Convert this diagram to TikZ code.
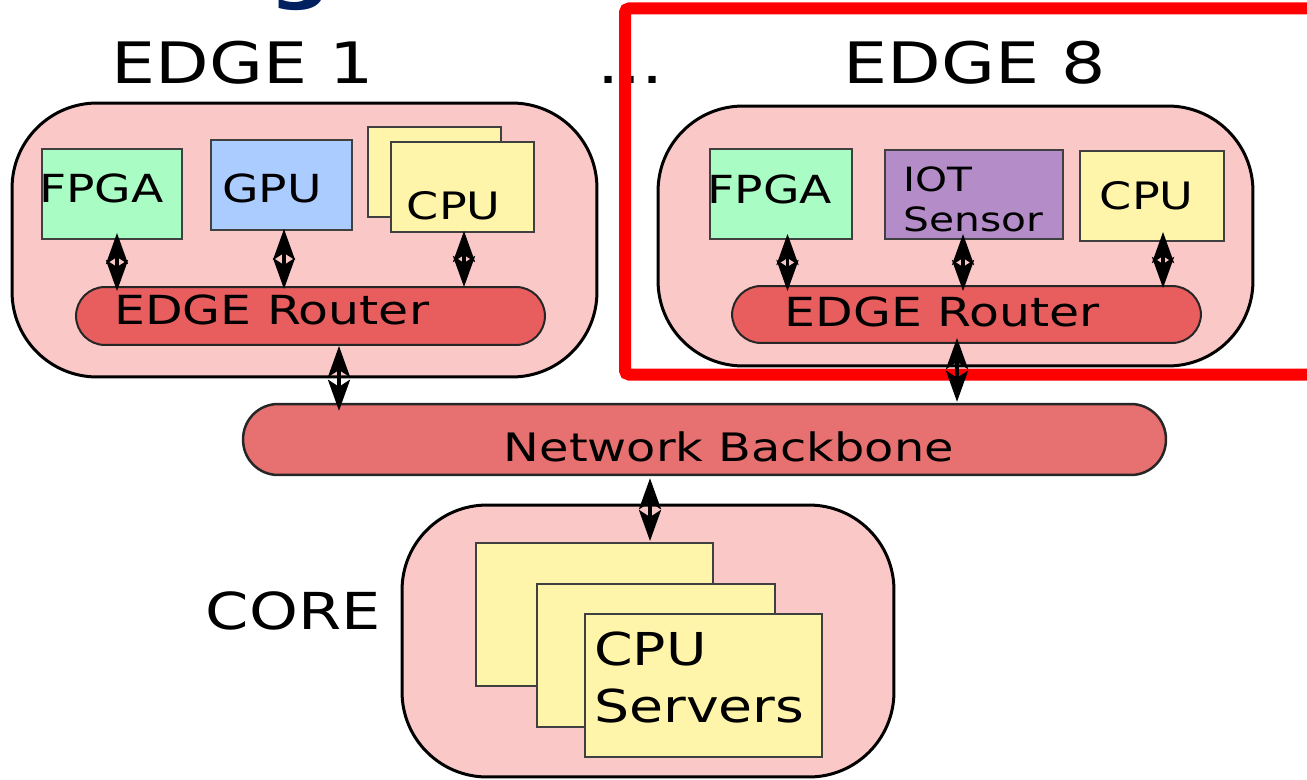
\documentclass[tikz,border=0pt]{standalone}
\usepackage{fontspec}
\setmainfont{DejaVu Sans}[FakeStretch=1.22]
\usetikzlibrary{arrows.meta,calc}
\definecolor{contfill}{RGB}{251,200,200}
\definecolor{routerfill}{RGB}{232,94,95}
\definecolor{bbfill}{RGB}{231,112,112}
\definecolor{fpgafill}{RGB}{168,252,196}
\definecolor{gpufill}{RGB}{170,204,255}
\definecolor{cpufill}{RGB}{255,245,170}
\definecolor{iotfill}{RGB}{180,140,200}
\definecolor{navy}{RGB}{0,32,96}
\tikzset{
  container/.style={draw=black, line width=0.06cm, fill=contfill, rounded corners=1.7cm, inner sep=0pt},
  hwbox/.style={draw=black!75, line width=0.04cm, inner sep=0pt},
  router/.style={draw=black!85, line width=0.04cm, fill=routerfill, inner sep=0pt, rounded corners=0.58cm},
  backbone/.style={draw=black!85, line width=0.05cm, fill=bbfill, inner sep=0pt, rounded corners=0.7cm},
  lbl/.style={anchor=base west, inner sep=0pt, text=black},
  bigfont/.style={font=\fontsize{32.5}{38}\selectfont},
  midfont/.style={font=\fontsize{22}{26}\selectfont},
  biarrow/.style={line width=0.07cm, {Stealth[length=0.62cm,width=0.44cm,inset=0.14cm]}-{Stealth[length=0.62cm,width=0.44cm,inset=0.14cm]}},
}
\begin{document}
\begin{tikzpicture}[x=0.02cm,y=-0.02cm]
\useasboundingbox (0,0) rectangle (1307,780);

% title fragment
\node[lbl, text=navy, font=\fontsize{40}{44}\bfseries] (titlefrag) at (269,-4) {g};

% top labels
\node[lbl, bigfont] (e1lbl) at (111,84) {EDGE 1};
\node[lbl, bigfont] (dots) at (597,84) {...};
\node[lbl, bigfont] (e8lbl) at (843,84) {EDGE 8};

% containers
\node[container, minimum width=11.7cm, minimum height=5.48cm] (c1) at (304.5,240) {};
\node[container, minimum width=11.9cm, minimum height=5.2cm] (c8) at (955.5,236) {};
\node[container, minimum width=9.84cm, minimum height=5.44cm] (cc) at (648,641) {};

% EDGE 1 contents
\node[hwbox, fill=fpgafill, minimum width=2.82cm, minimum height=1.8cm] (f1) at (112,194) {};
\node[hwbox, fill=gpufill, minimum width=2.82cm, minimum height=1.8cm] (g1) at (281.5,185) {};
\node[hwbox, fill=cpufill, minimum width=2.66cm, minimum height=1.8cm] (cb1) at (434.5,172) {};
\node[hwbox, fill=cpufill, minimum width=2.86cm, minimum height=1.8cm] (cf1) at (462.5,187) {};
\node[router, minimum width=9.38cm, minimum height=1.16cm] (r1) at (310.5,316) {};
\node[lbl, midfont] (f1t) at (39,203) {FPGA};
\node[lbl, midfont] (g1t) at (222,203) {GPU};
\node[lbl, font=\fontsize{21.5}{25}\selectfont] (cf1t) at (406.5,220) {CPU};
\node[lbl, font=\fontsize{22.8}{26}\selectfont] (r1t) at (114,324) {EDGE Router};

% EDGE 8 contents
\node[hwbox, fill=fpgafill, minimum width=2.84cm, minimum height=1.8cm] (f8) at (781,194) {};
\node[hwbox, fill=iotfill, minimum width=3.56cm, minimum height=1.78cm] (i8) at (974,194.5) {};
\node[hwbox, fill=cpufill, minimum width=2.88cm, minimum height=1.8cm] (cp8) at (1152,196) {};
\node[router, minimum width=9.38cm, minimum height=1.14cm] (r8) at (966.5,314.5) {};
\node[lbl, midfont] (f8t) at (707.5,204) {FPGA};
\node[lbl, font=\fontsize{19}{22.8}\selectfont, align=left] (i8t) at (903,232) {IOT\\Sensor};
\node[lbl, font=\fontsize{21.5}{25}\selectfont] (cp8t) at (1099.5,210) {CPU};
\node[lbl, font=\fontsize{22.8}{26}\selectfont] (r8t) at (784.5,326) {EDGE Router};

% backbone
\node[backbone, minimum width=18.46cm, minimum height=1.42cm] (bb) at (704.5,439.5) {};
\node[lbl, font=\fontsize{22.3}{26}\selectfont] (bbt) at (503.5,461) {Network Backbone};

% core
\node[lbl, font=\fontsize{29}{32}\selectfont] (coret) at (205.5,629) {CORE};
\node[hwbox, fill=cpufill, minimum width=4.74cm, minimum height=2.86cm] (s1) at (594.5,614.5) {};
\node[hwbox, fill=cpufill, minimum width=4.76cm, minimum height=2.86cm] (s2) at (656,655.5) {};
\node[hwbox, fill=cpufill, minimum width=4.74cm, minimum height=2.86cm] (s3) at (703.5,685.5) {};
\node[lbl, font=\fontsize{25.8}{32}\selectfont, align=left] (s3t) at (594,722) {CPU\\Servers};

% highlight frame
\draw[red, line width=0.24cm, rounded corners=0.08cm] (625,8.5) rectangle (1360,374.5);

% connectors
\draw[biarrow] ($(f1.south)+(5,-7)$) -- ($(f1.south |- r1.north)+(5,5)$);
\draw[biarrow] ($(g1.south)+(2.5,-2)$) -- ($(g1.south |- r1.north)+(2.5,3)$);
\draw[biarrow] ($(cf1.south)+(1.5,-2)$) -- ($(cf1.south |- r1.north)+(1.5,1)$);
\draw[biarrow] ($(r1.south)+(28.5,0)$) -- ($(r1.south |- bb.north)+(28.5,8)$);
\draw[biarrow] ($(f8.south)+(6.5,-6)$) -- ($(f8.south |- r8.north)+(6.5,6)$);
\draw[biarrow] ($(i8.south)+(-11,-6)$) -- ($(i8.south |- r8.north)+(-11,6)$);
\draw[biarrow] ($(cp8.south)+(11,-10)$) -- ($(cp8.south |- r8.north)+(11,3)$);
\draw[biarrow] ($(r8.south)+(-9.5,-6)$) -- ($(r8.south |- bb.north)+(-9.5,-1)$);
\draw[biarrow] ($(bb.south)+(-54.5,2)$) -- ($(bb.south |- s1.north)+(-54.5,-1)$);
\end{tikzpicture}
\end{document}
